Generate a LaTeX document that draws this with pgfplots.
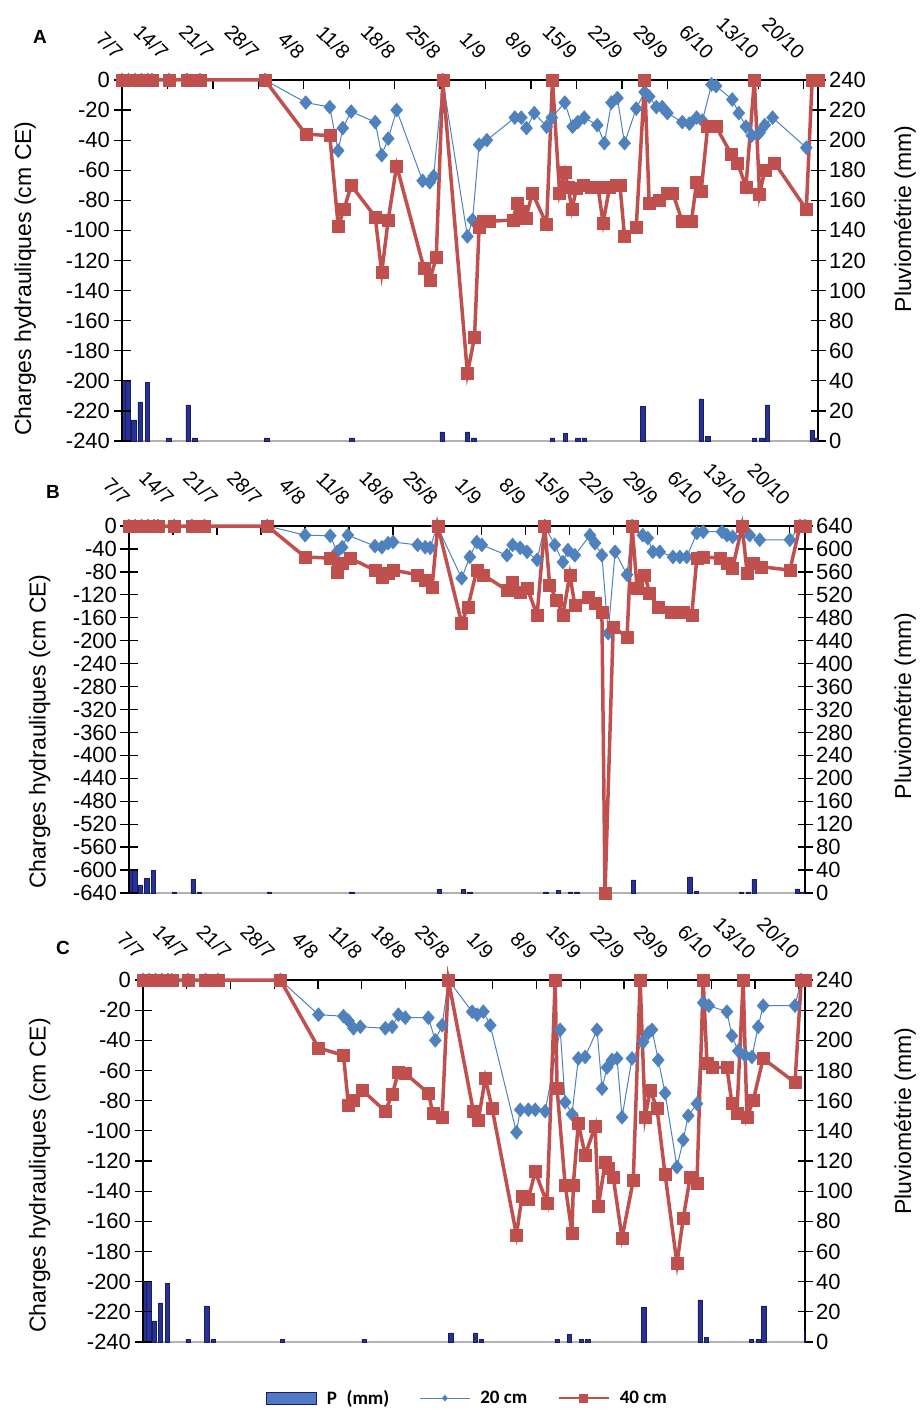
\documentclass[border=0pt]{standalone}
\usepackage{fontspec}
\setmainfont{Liberation Sans}
\newfontfamily\legfont{Carlito}
\usepackage{pgfplots}
\usepackage{pgfplotstable}
\pgfplotsset{compat=1.18}

\definecolor{red40}{RGB}{192,80,77}
\definecolor{blue20}{RGB}{79,129,189}
\definecolor{barfill}{RGB}{40,50,150}
\definecolor{bardraw}{RGB}{25,30,100}
\definecolor{legblue}{RGB}{80,120,195}

\newcommand{\tf}{\fontsize{22}{24}\selectfont}
\newcommand{\df}{\fontsize{20}{22}\selectfont}
\newcommand{\lf}{\fontsize{23}{26}\selectfont}

\pgfplotstableread{
d p
0.2 40
0.9 40
1.8 14
2.8 26
3.9 39
7.2 2
10.2 24
11.2 2
22.3 2
35.4 2
49.3 6
53.2 6
54.2 2
66.3 2
68.3 5
70.2 2
71.2 2
80.2 23
89.2 28
90.2 3
97.4 2
98.5 2
99.4 24
106.3 7
107 2
}\rain

\pgfplotstableread{
d h
0 0
1 0
2 0
3 0
4 0
4.6 0
7.2 0
10 0
12 0
22 0
28.3 -36
32 -37
33.3 -97
34.2 -86
35.3 -70
39 -91
40 -128
41 -93
42.3 -57
46.5 -125
47.4 -133
48.4 -118
49.4 0
53.2 -195
54.3 -171
55 -98
55.6 -94
56.6 -94
60.2 -93
60.9 -82
61.6 -87
62.2 -92
63.2 -75
65.4 -96
66.3 0
67.4 -75
68.2 -61
68.7 -71
69.3 -86
70 -72
71 -70
72.2 -71
73.3 -71
74.1 -95
75.1 -71
76.1 -70
76.7 -70
77.4 -104
79.2 -98
80.5 0
81.2 -82
82.8 -80
84 -75
84.8 -75
86.3 -94
87.7 -94
88.5 -68
89.2 -74
90.2 -31
91.5 -31
93.8 -49
94.8 -55
96.1 -71
97.4 0
98.2 -76
99 -60
100.5 -55
105.4 -86
106.3 0
107.2 0
}\Ared

\pgfplotstableread{
d h
0 0
1 0
2 0
3 0
4 0
4.6 0
7.2 0
10 0
12 0
22 0
28.3 -15
32 -18
33.3 -47
34 -32
35.3 -21
39 -28
40 -50
41 -39
42.3 -20
46.3 -67
47.4 -68
48 -64
49.4 0
53.2 -104
54 -93
55 -43
56.2 -40
60.5 -25
61.5 -25
62.3 -32
63.5 -22
65.4 -31
66.2 -25
68.2 -15
69.4 -31
70.2 -28
71.2 -25
73.2 -30
74.3 -42
75.4 -15
76.3 -12
77.4 -42
79.2 -19
80.5 -8
81.2 -11
82.3 -18
83.2 -18
84 -22
86.3 -28
87.4 -29
88.5 -25
89.4 -27
90.8 -3
91.5 -4
94 -13
95 -22
96.1 -31
97 -37
98.2 -35
99 -30
100.2 -25
105.4 -45
}\Ablue

\pgfplotstableread{
d h
0 0
1 0
2 0
3 0
4 0
4.6 0
7.2 0
10 0
12 0
22 0
28 -54
32 -56
33.1 -80
33.9 -65
35.1 -56
39.1 -77
40.2 -89
41.2 -82
42 -77
45.9 -85
47.1 -94
48.2 -106
49.1 0
52.9 -169
53.9 -141
55.3 -77
56.3 -85
60.1 -112
61 -98
62.2 -115
63.3 -108
64.9 -155
66.1 0
66.9 -103
68 -129
69 -155
70.1 -85
70.9 -138
73 -124
74.1 -134
75.2 -150
75.7 -640
77 -176
79.2 -194
80 0
80.8 -108
82 -85
82.8 -117
84.1 -141
86.3 -150
88.1 -150
89.5 -155
90.3 -56
91.3 -54
94 -56
95.1 -65
96 -73
97.5 0
98.3 -82
99.2 -65
100.6 -71
105.1 -77
106.7 0
107.5 0
}\Bred

\pgfplotstableread{
d h
0 0
1 0
2 0
3 0
4 0
4.6 0
7.2 0
10 0
12 0
22 0
28 -16
32 -17
33.1 -45
33.9 -37
34.8 -16
39.1 -35
40.2 -37
41.2 -30
42 -28
45.9 -33
47.1 -37
47.9 -38
49 0
52.9 -91
54.2 -54
55.3 -28
56.1 -33
60.1 -51
61 -33
62.2 -38
63.3 -45
64.9 -59
66.1 0
67.7 -33
69 -63
69.8 -42
70.9 -51
73.3 -16
74.1 -30
75.2 -51
76.2 -187
77.3 -45
79.2 -85
80 0
81.7 -16
82.5 -21
83.3 -45
84.4 -45
86.5 -54
87.6 -54
88.7 -54
90.3 -12
91.3 -10
94.3 -10
95.1 -16
96 -19
97.5 0
98.7 -16
100.3 -24
105.1 -24
106.7 0
107.5 0
}\Bblue

\pgfplotstableread{
d h
0 0
1 0
2 0
3 0
4 0
4.6 0
7.2 0
10 0
12 0
22 0
28.1 -45
32.1 -50
32.9 -83
33.7 -80
35.1 -73
38.8 -87
39.9 -76
40.9 -61
42 -62
45.7 -75
46.4 -88
47.9 -91
48.9 0
52.9 -87
53.7 -93
54.8 -65
55.9 -85
59.8 -169
60.7 -143
61.7 -145
62.8 -127
64.7 -148
66 0
66.3 -72
67.6 -136
68.7 -168
68.9 -136
69.7 -95
70.8 -116
72.4 -97
72.9 -150
74 -121
74.5 -125
75.3 -131
76.7 -171
78.5 -133
79.6 0
80.4 -91
81.2 -73
82.3 -85
83.6 -129
85.5 -188
86.5 -158
87.6 -131
88.7 -135
89.7 0
90.3 -55
91.1 -58
93.5 -58
94.3 -82
95.1 -88
96.1 0
96.7 -91
97.7 -80
99.3 -52
104.4 -68
105.4 0
106 0
}\Cred

\pgfplotstableread{
d h
0 0
1 0
2 0
3 0
4 0
4.6 0
7.2 0
10 0
12 0
22 0
28.1 -23
32.1 -24
32.9 -27
33.7 -32
34.8 -31
38.8 -32
39.9 -31
40.9 -23
42 -25
45.7 -25
46.8 -40
47.9 -30
48.9 0
52.7 -21
53.5 -23
54.5 -21
55.6 -30
59.8 -101
60.4 -86
61.7 -86
62.8 -86
64.4 -87
66.8 -33
67.6 -81
68.7 -89
69.7 -52
70.8 -51
72.7 -33
73.5 -72
74.3 -58
75.1 -53
75.9 -52
76.7 -91
78.3 -52
80.1 -41
80.9 -35
81.5 -33
82.5 -53
83.6 -75
85.5 -124
86.5 -106
87.3 -90
88.7 -82
89.7 -15
90.6 -17
93.5 -21
94.3 -37
95.3 -47
96.4 -50
97.5 -51
98.5 -31
99.3 -17
104.4 -17
105.4 0
}\Cblue

\pgfplotsset{
  base/.style={scale only axis, anchor=north west, xmin=0,
    /pgf/number format/assume math mode=true,
    tick label style={font=\tf}, label style={font=\lf},
    axis line style={line width=1.3pt, black},
    tick style={line width=1.3pt, black}},
  rainax/.style={base, axis y line*=right, axis x line*=bottom, xtick=\empty,
    x axis line style={draw=gray!60, line width=1.3pt},
    tick align=center, major tick length=15pt, ymin=0,
    ylabel={Pluviométrie (mm)}},
  headax/.style={base, axis y line*=left, axis x line*=top, xtick=\empty,
    tick align=center, major tick length=17pt, ymax=0, clip=false,
    ylabel={Charges hydrauliques (cm CE)}},
  dateax/.style={base, axis y line=none, axis x line*=top, ymin=0, ymax=1,
    xtick={0,7,...,105},
    xticklabels={7/7,14/7,21/7,28/7,4/8,11/8,18/8,25/8,1/9,8/9,15/9,22/9,29/9,6/10,13/10,20/10},
    tick align=inside, major tick length=9pt,
    xticklabel style={font=\df, yshift=22pt, rotate=-45, anchor=east}},
  bars/.style={ybar, bar width=0.7, fill=barfill, draw=bardraw, line width=0.5pt},
  s20/.style={color=blue20, line width=1pt, mark=diamond*, mark size=7pt,
    mark options={xscale=1.15, line width=0.4pt}},
  s40/.style={color=red40, line width=3.5pt, mark=square*, mark size=6pt,
    mark options={line width=0.4pt}},
}

\begin{document}
\begin{tikzpicture}
\path[use as bounding box] (0pt,0pt) rectangle (920pt,-1410pt);

% ---------------- Panel A ----------------
\begin{axis}[rainax, at={(122pt,-80pt)}, width=696pt, height=361pt, xmax=107.2,
  ymax=240, ytick={0,20,...,240},
  ylabel style={at={(axis description cs:1.125,0.615)}, anchor=center}]
\addplot[bars] table[x=d,y=p] {\rain};
\end{axis}
\begin{axis}[dateax, at={(122pt,-80pt)}, width=696pt, height=361pt, xmax=107.2]
\addplot[draw=none] coordinates {(0,0)};
\end{axis}
\begin{axis}[headax, at={(122pt,-80pt)}, width=696pt, height=361pt, xmax=107.2,
  ymin=-240, ytick={-240,-220,...,0},
  ylabel style={at={(axis description cs:-0.139,0.45)}, anchor=center}]
\addplot[s20] table[x=d,y=h] {\Ablue};
\addplot[s40] table[x=d,y=h] {\Ared};
\end{axis}
\node[font=\bfseries\fontsize{19}{21}\selectfont] at (40pt,-37pt) {A};

% ---------------- Panel B ----------------
\begin{axis}[rainax, at={(129pt,-526pt)}, width=676pt, height=367pt, xmax=107.5,
  ymax=640, ytick={0,40,...,640},
  ylabel style={at={(axis description cs:1.148,0.51)}, anchor=center}]
\addplot[bars] table[x=d,y=p] {\rain};
\end{axis}
\begin{axis}[dateax, at={(129pt,-526pt)}, width=676pt, height=367pt, xmax=107.5]
\addplot[draw=none] coordinates {(0,0)};
\end{axis}
\begin{axis}[headax, at={(129pt,-526pt)}, width=676pt, height=367pt, xmax=107.5,
  ymin=-640, ytick={-640,-600,...,0},
  ylabel style={at={(axis description cs:-0.132,0.44)}, anchor=center}]
\addplot[s20] table[x=d,y=h] {\Bblue};
\addplot[s40] table[x=d,y=h] {\Bred};
\end{axis}
\node[font=\bfseries\fontsize{19}{21}\selectfont] at (53pt,-492pt) {B};

% ---------------- Panel C ----------------
\begin{axis}[rainax, at={(143pt,-980pt)}, width=662pt, height=362pt, xmax=106,
  ymax=240, ytick={0,20,...,240},
  ylabel style={at={(axis description cs:1.151,0.61)}, anchor=center}]
\addplot[bars] table[x=d,y=p] {\rain};
\end{axis}
\begin{axis}[dateax, at={(143pt,-980pt)}, width=662pt, height=362pt, xmax=106]
\addplot[draw=none] coordinates {(0,0)};
\end{axis}
\begin{axis}[headax, at={(143pt,-980pt)}, width=662pt, height=362pt, xmax=106,
  ymin=-240, ytick={-240,-220,...,0},
  ylabel style={at={(axis description cs:-0.156,0.46)}, anchor=center},
  legend image code/.code={\draw[mark repeat=2,mark phase=2,#1] plot coordinates {(0pt,0pt) (25pt,0pt) (50pt,0pt)};},
  legend style={at={(axis description cs:0.49,-0.155)}, anchor=center, draw=none, fill=none,
    legend columns=3, font=\legfont\bfseries\fontsize{19}{21}\selectfont,
    /tikz/every even column/.append style={column sep=28pt},
    /tikz/every odd column/.append style={column sep=8pt}}]
\addlegendimage{legend image code/.code={\draw[fill=legblue, draw=bardraw, line width=1pt] (0pt,-6pt) rectangle (50pt,6pt);}}
\addlegendentry{P\hspace{0.5em}(mm)}
\addplot[s20, legend image post style={mark size=3pt}] table[x=d,y=h] {\Cblue};
\addlegendentry{20 cm}
\addplot[s40, legend image post style={mark size=4pt, line width=2.5pt}] table[x=d,y=h] {\Cred};
\addlegendentry{40 cm}
\end{axis}
\node[font=\bfseries\fontsize{19}{21}\selectfont] at (63pt,-948pt) {C};

\end{tikzpicture}
\end{document}
